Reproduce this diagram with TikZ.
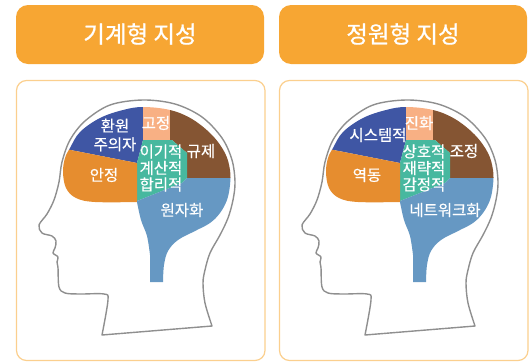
\documentclass[tikz,border=0pt]{standalone}
\usepackage{fontspec}
\setmainfont{Noto Sans CJK KR}
\newfontfamily\bannerfont[FakeBold=0.8]{Noto Sans CJK KR}
\newfontfamily\lobefont[FakeBold=0.4]{Noto Sans CJK KR}
\usepackage{tikz}
\definecolor{BannerOrange}{HTML}{F7A633}
\definecolor{FrameOrange}{HTML}{FBCF8E}
\definecolor{OutlineGray}{HTML}{8F8F8F}
\definecolor{LobeBlue}{HTML}{3F56A4}
\definecolor{LobePeach}{HTML}{F8B084}
\definecolor{LobeBrown}{HTML}{855533}
\definecolor{LobeTeal}{HTML}{47B89F}
\definecolor{LobeOrange}{HTML}{E68D2F}
\definecolor{LobeSky}{HTML}{6698C3}

\begin{document}
\begin{tikzpicture}[x=1pt, y=-1pt,
  lobetext/.style={font=\lobefont\fontsize{15.5}{16.5}\selectfont, color=white, align=center}]
  \useasboundingbox (0,0) rectangle (532,362);

  \foreach \dx/\title/\la/\lb/\lc/\ld/\le/\lf in
    {0/{기계형 지성}/{환원\\[2pt]주의자}/고정/규제/{이기적\\계산적\\합리적}/안정/원자화,
     263/{정원형 지성}/시스템적/진화/조정/{상호적\\재략적\\감정적}/역동/네트워크화} {
  \begin{scope}[xshift=\dx]
    %% Title banner
    \fill[BannerOrange, rounded corners=12] (16,5) rectangle (264,64);
    \node[font=\bannerfont\fontsize{23.5}{26}\selectfont, color=white] (title\dx) at (140,34) {\title};

    %% Frame
    \draw[FrameOrange, line width=1.2, rounded corners=10] (16.5,80.5) rectangle (265,360.5);

    %% Head outline
    \draw[OutlineGray, line width=1.4, line join=round]
      plot[smooth, tension=0.55] coordinates {(212,326) (205,303) (203,283) (205,270)
        (210,253) (220,235) (228,218) (233,200) (235,182) (232,160) (222,138) (202,117)
        (175,104) (143,100) (110,105) (85,121) (70,140) (62,162) (59,182) (54,200)
        (47,214) (39,225) (42,233) (52,236) (56,241) (55,248) (53,253) (58,257) (57,262)
        (58,268) (59,287) (65,293) (80,294) (104,294) (108,300) (102,335)} -- cycle;

    %% Brain lobes
    \begin{scope}
      \clip plot[smooth, tension=0.6] coordinates {(137,202) (95,202) (76,198) (66,188)
        (63,172) (65,158) (70,148) (80,132) (100,118) (123,110) (143,107) (170,110)
        (192,119) (212,135) (225,153) (230,170) (230,185) (227,200) (220,213) (210,223)
        (195,231) (178,240) (168,251) (164,265) (163,282)}
        -- (150,282) -- plot[smooth, tension=0.6] coordinates {(150,255) (147,236) (141,220) (137,202)}
        -- cycle;
      \fill[LobeBlue] (40,90) -- (143,90) -- (143,140) -- (137,163) -- (40,144) -- cycle;
      \fill[LobePeach] (143,90) -- (170,90) -- (170,140) -- (143,140) -- cycle;
      \fill[LobeBrown] (170,90) -- (250,90) -- (250,178) -- (187,178) -- (187,153)
        -- (172,140) -- (170,140) -- cycle;
      \fill[LobeTeal] (143,140) -- (172,140) -- (187,153) -- (187,178) -- (182,183)
        -- (137,201) -- (137,163) -- cycle;
      \fill[LobeOrange] (40,144) -- (137,163) -- (137,210) -- (40,210) -- cycle;
      \fill[LobeSky] (137,201) -- (182,183) -- (187,178) -- (250,178) -- (250,300)
        -- (137,300) -- cycle;
    \end{scope}

    %% Lobe labels
    \node[lobetext] (blue\dx) at (115,135) {\la};
    \node[lobetext] (peach\dx) at (156,123) {\lb};
    \node[lobetext] (brown\dx) at (201,151) {\lc};
    \node[lobetext] (teal\dx) at (161,168) {\ld};
    \node[lobetext] (orange\dx) at (104,175) {\le};
    \node[lobetext] (sky\dx) at (182,210) {\lf};
  \end{scope}
  }
\end{tikzpicture}
\end{document}
